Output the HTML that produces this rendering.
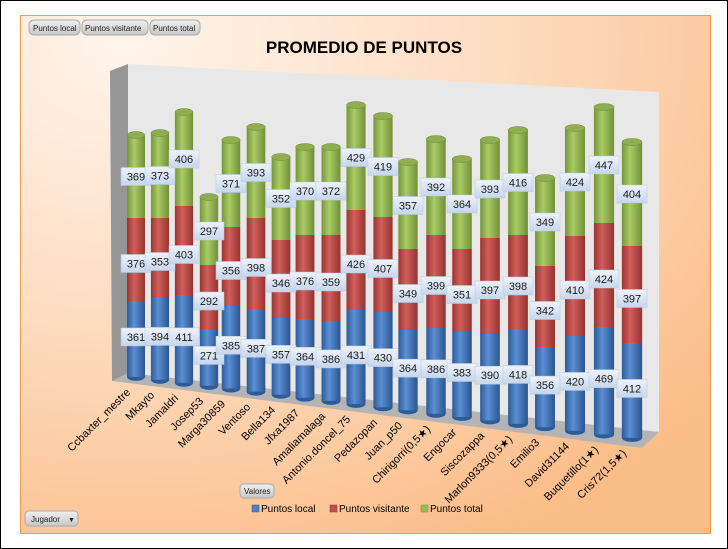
<!DOCTYPE html>
<html><head><meta charset="utf-8"><style>
body{margin:0;background:#fff}
svg{display:block;font-family:"Liberation Sans",sans-serif}
</style></head><body>
<svg width="728" height="549" viewBox="0 0 728 549">
<defs>
<radialGradient id="bg" cx="0.15" cy="0.05" r="1.1">
<stop offset="0" stop-color="#fff4ec"/><stop offset="0.5" stop-color="#fddcc0"/><stop offset="1" stop-color="#fbbd88"/>
</radialGradient>
<linearGradient id="gb" x1="0" x2="1"><stop offset="0" stop-color="#2d5b9a"/><stop offset="0.4" stop-color="#5b8fd3"/><stop offset="1" stop-color="#2a5590"/></linearGradient>
<linearGradient id="gr" x1="0" x2="1"><stop offset="0" stop-color="#9b3532"/><stop offset="0.4" stop-color="#d05f5b"/><stop offset="1" stop-color="#963330"/></linearGradient>
<linearGradient id="gg" x1="0" x2="1"><stop offset="0" stop-color="#77953a"/><stop offset="0.4" stop-color="#a9cc66"/><stop offset="1" stop-color="#728f37"/></linearGradient>
<linearGradient id="lb" x1="0" y1="0" x2="0" y2="1"><stop offset="0" stop-color="#eef3fa"/><stop offset="1" stop-color="#c6d6ec"/></linearGradient>
<linearGradient id="btn" x1="0" y1="0" x2="0" y2="1"><stop offset="0" stop-color="#f0f0f0"/><stop offset="1" stop-color="#c8c8c8"/></linearGradient>
</defs>
<rect x="0.5" y="0.5" width="727" height="548" fill="#fff" stroke="#000"/>
<rect x="20.5" y="15.5" width="690" height="518" fill="url(#bg)" stroke="#f29a4a"/>
<g font-size="8" fill="#222">
<rect x="29" y="20" width="51" height="15" rx="5" fill="url(#btn)" stroke="#aaa"/><text x="33" y="31">Puntos local</text>
<rect x="82" y="20" width="66" height="15" rx="5" fill="url(#btn)" stroke="#aaa"/><text x="85" y="31">Puntos visitante</text>
<rect x="150" y="20" width="50" height="15" rx="5" fill="url(#btn)" stroke="#aaa"/><text x="153" y="31">Puntos total</text>
<rect x="240" y="484" width="34" height="14" rx="4" fill="url(#btn)" stroke="#aaa"/><text x="244" y="494">Valores</text>
<rect x="25" y="511" width="53" height="15" rx="4" fill="url(#btn)" stroke="#aaa"/><text x="31" y="522">Jugador</text><text x="68" y="522" font-size="7">▼</text>
</g>
<text x="364" y="53" font-size="17" font-weight="bold" text-anchor="middle" fill="#000">PROMEDIO DE PUNTOS</text>
<polygon points="128,64 659,92 659,432 128,373" fill="#e8e8e8"/>
<polygon points="110,71 128,64 128,373 112,381" fill="#969696"/>
<polygon points="112,381 128,373 659,432 642,448" fill="#b4b4b4"/>
<g id="bars"></g>
<g id="xl" font-size="11" fill="#000"></g>
<g font-size="10" fill="#000">
<rect x="252" y="505" width="7" height="7" fill="#4f81bd" stroke="#355f91" stroke-width=".5"/><text x="261" y="512">Puntos local</text>
<rect x="330" y="505" width="7" height="7" fill="#c0504d" stroke="#8c3836" stroke-width=".5"/><text x="339" y="512">Puntos visitante</text>
<rect x="421" y="505" width="7" height="7" fill="#9bbb59" stroke="#71893f" stroke-width=".5"/><text x="430" y="512">Puntos total</text>
</g>
</svg>
<script>
(function(){
var names=["Ccbaxter_mestre","Mkayto","Jamaldri","Josep53","Marga30859","Ventoso","Bella134","Jfxa1987","Amaliamalaga","Antonio.doncel_75","Pedazopan","Juan_p50","Chirigorri(0,5★)","Engocar","Siscozappa","Marlon9333(0,5★)","Emilio3","David31144","Buquetillo(1★)","Cris72(1,5★)"];
var cx=[136,160,184,209,231,256,281,305,331,356,383,408,436,462,490,518,545,575,604,632];
var tp=[135,133,112,197,140,127,157,147,147,105,116,162,139,159,140,130,178,128,107,142];
var b1=[218,218,206,265,227,218,240,235,235,210,217,249,235,249,238,235,266,236,223,246];
var b2=[301,297,295,329,306,309,318,319,321,310,312,330,328,332,334,329,347,336,327,343];
var vg=[369,373,406,297,371,393,352,370,372,429,419,357,392,364,393,416,349,424,447,404];
var vr=[376,353,403,292,356,398,346,376,359,426,407,349,399,351,397,398,342,410,424,397];
var vb=[361,394,411,271,385,387,357,364,386,431,430,364,386,383,390,418,356,420,469,412];
var NS="http://www.w3.org/2000/svg";
function el(p,t,a,tx){var e=document.createElementNS(NS,t);for(var k in a)e.setAttribute(k,a[k]);if(tx)e.textContent=tx;p.appendChild(e);return e;}
var g=document.getElementById("bars"),xl=document.getElementById("xl");
var labels=[];
for(var i=0;i<20;i++){
 var x=cx[i],w=18+i*0.12,bot=377+0.123*(x-137),l=x-w/2;
 el(g,"ellipse",{cx:x,cy:bot,rx:w/2,ry:4,fill:"#2d5b9a"});
 el(g,"rect",{x:l,y:b2[i],width:w,height:bot-b2[i],fill:"url(#gb)"});
 el(g,"rect",{x:l,y:b1[i],width:w,height:b2[i]-b1[i],fill:"url(#gr)"});
 el(g,"rect",{x:l,y:tp[i],width:w,height:b1[i]-tp[i],fill:"url(#gg)"});
 el(g,"ellipse",{cx:x,cy:tp[i],rx:w/2,ry:3.5,fill:"#8fae50",stroke:"#6f8a3a","stroke-width":0.5});
 labels.push([x,(tp[i]+b1[i])/2,vg[i]],[x,(b1[i]+b2[i])/2+4,vr[i]],[x,(b2[i]+bot)/2-2,vb[i]]);
 el(xl,"text",{transform:"translate("+(x-5)+","+(bot+16)+") rotate(-45)","text-anchor":"end"},names[i]);
}
labels.forEach(function(a){
 el(g,"rect",{x:a[0]-15,y:a[1]-9,width:30,height:18,fill:"url(#lb)",stroke:"#b8c8de","stroke-width":0.5});
 el(g,"text",{x:a[0],y:a[1]+4,"text-anchor":"middle","font-size":11,fill:"#1a1a1a"},a[2]);
});
})();
</script>
</body></html>
